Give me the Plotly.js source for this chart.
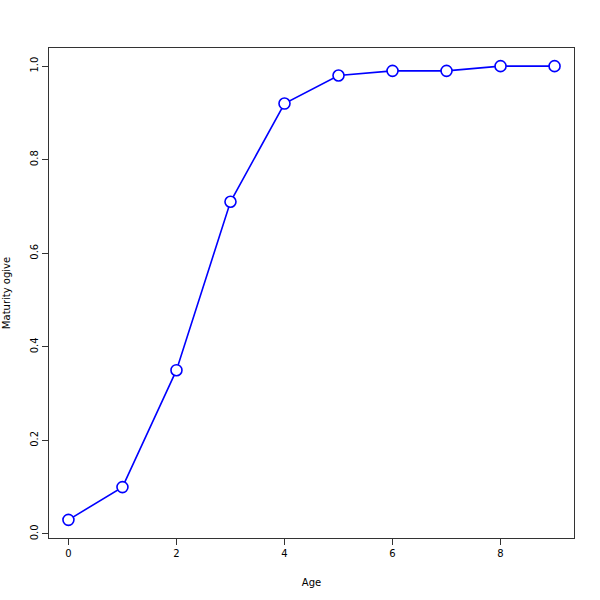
<!DOCTYPE html>
<html><head><script src="https://cdn.plot.ly/plotly-3.0.1.min.js"></script>
<style>body{margin:0}</style></head>
<body><div id="plot" style="width:600px;height:600px"></div>
<script>
const ages = [0,1,2,3,4,5,6,7,8,9];
const maturity = [0.03,0.10,0.35,0.71,0.92,0.98,0.99,0.99,1.0,1.0];
const xTicks = [0,2,4,6,8];
const yTicks = [0,0.2,0.4,0.6,0.8,1.0];
const yTickText = ["0.0","0.2","0.4","0.6","0.8","1.0"];
const font = {family:"DejaVu Sans, sans-serif", size:10, color:"#000"};
Plotly.newPlot("plot",[{
  x:ages, y:maturity, type:"scatter", mode:"lines+markers",
  line:{color:"#0000ff", width:1.6},
  marker:{symbol:"circle", size:11, color:"#ffffff", line:{color:"#0000ff", width:1.6}}
}],{
  width:600, height:600,
  margin:{l:49, r:26, t:48, b:62},
  paper_bgcolor:"#fff", plot_bgcolor:"#fff",
  showlegend:false,
  font:font,
  xaxis:{range:[-0.36,9.36], tickvals:xTicks, ticktext:xTicks.map(String), ticks:"outside", ticklen:6, tickcolor:"#333",
    showgrid:false, zeroline:false, showline:true, mirror:true, linecolor:"#333", linewidth:1,
    title:{text:"Age", font:font, standoff:20}, tickfont:font},
  yaxis:{range:[-0.0088,1.0388], tickvals:yTicks, ticktext:yTickText, ticks:"outside", ticklen:6, tickcolor:"#333",
    tickangle:-90, showgrid:false, zeroline:false, showline:true, mirror:true, linecolor:"#333", linewidth:1,
    title:{text:"Maturity ogive", font:font, standoff:16}, tickfont:font}
},{staticPlot:true});
</script></body></html>
